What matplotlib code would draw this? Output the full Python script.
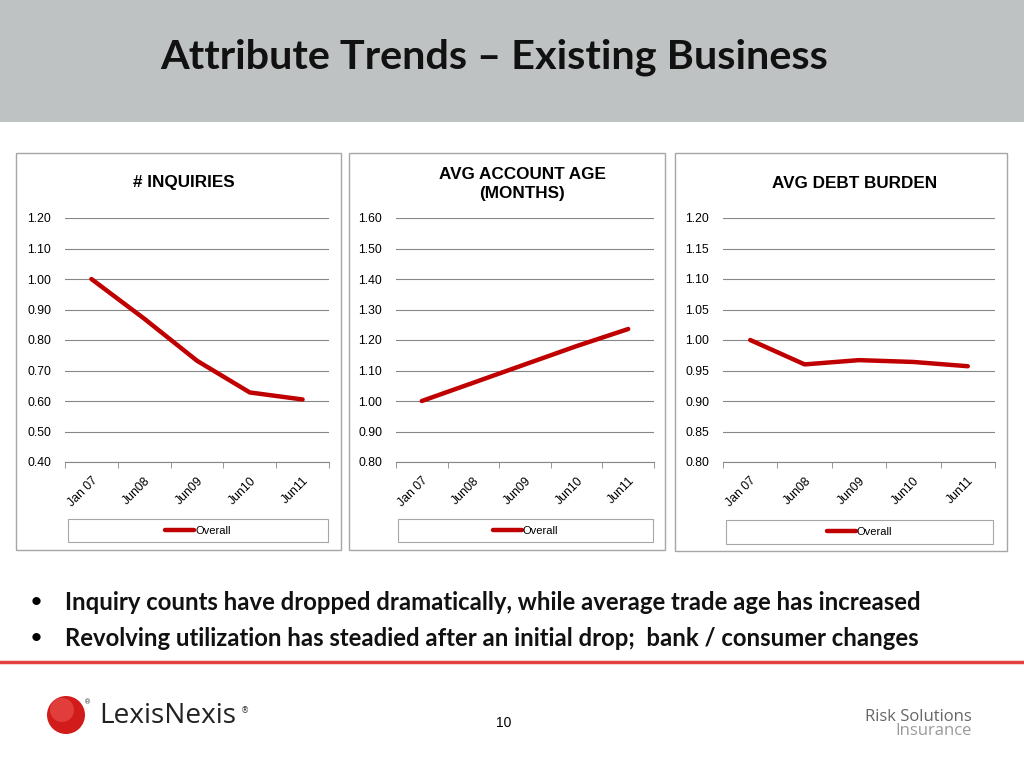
import matplotlib
matplotlib.use('Agg')
import matplotlib.pyplot as plt
from matplotlib.patches import Rectangle, Ellipse
from matplotlib.ticker import FixedLocator, FormatStrFormatter

#data
periods = ['Jan 07', 'Jun08', 'Jun09', 'Jun10', 'Jun11']
inquiries = [1.00, 0.87, 0.732, 0.628, 0.605]
account_age = [1.00, 1.06, 1.12, 1.18, 1.236]
debt_burden = [1.00, 0.960, 0.967, 0.964, 0.957]

titles = ['# INQUIRIES', 'AVG ACCOUNT AGE\n(MONTHS)', 'AVG DEBT BURDEN']
series = [inquiries, account_age, debt_burden]
y_ticks = [
    [0.40, 0.50, 0.60, 0.70, 0.80, 0.90, 1.00, 1.10, 1.20],
    [0.80, 0.90, 1.00, 1.10, 1.20, 1.30, 1.40, 1.50, 1.60],
    [0.80, 0.85, 0.90, 0.95, 1.00, 1.05, 1.10, 1.15, 1.20],
]
legend_label = 'Overall'
bullets = [
    'Inquiry counts have dropped dramatically, while average trade age has increased',
    'Revolving utilization has steadied after an initial drop;  bank / consumer changes',
]

W, H = 1024, 768
RED = '#C00000'
GRID = '#868686'

#pixel helpers
def fx(x):
    return x / W

def fy(y):
    return 1 - y / H

def box(x0, y0, x1, y1, **kw):
    return Rectangle((fx(x0), fy(y1)), fx(x1) - fx(x0), fy(y0) - fy(y1),
                     transform=fig.transFigure, **kw)

def disc(cx, cy, r, **kw):
    return Ellipse((fx(cx), fy(cy)), 2 * r / W, 2 * r / H, transform=fig.transFigure, **kw)

fig = plt.figure(figsize=(W / 100, H / 100), dpi=100)

#header band and title
fig.patches.append(box(0, 0, W, 122, facecolor='#BFC2C2', edgecolor='none', zorder=0))
fig.text(fx(160), fy(57), 'Attribute Trends \u2013 Existing Business', fontsize=29.8,
         fontweight='bold', family='Lato', color='#111111', va='center', ha='left')

#panel frames, axes areas, legend boxes, title positions (pixels)
frames = [(16, 153, 341, 550), (349, 153, 665, 550), (675, 153, 1007, 551)]
plots = [(65, 218, 329, 462), (396, 218, 654, 462), (723, 218, 995, 462)]
legboxes = [(68, 519, 328, 542), (398, 519, 653, 542), (726, 520, 993, 544)]
title_pos = [(184, 183), (522, 184), (855, 183)]

for i in range(3):
    fig.patches.append(box(*frames[i], facecolor='white', edgecolor='#A6A6A6', lw=1, zorder=1))
    fig.patches.append(box(*legboxes[i], facecolor='white', edgecolor='#A6A6A6', lw=0.8, zorder=2))
    x0, y0, x1, y1 = plots[i]
    ax = fig.add_axes([fx(x0), fy(y1), fx(x1) - fx(x0), fy(y0) - fy(y1)])
    ax.set_zorder(3)
    ax.patch.set_alpha(0)
    xs = range(len(periods))
    ax.plot(xs, series[i], color=RED, lw=3.2, solid_capstyle='round', label=legend_label, zorder=3)
    ax.set_xlim(-0.5, len(periods) - 0.5)
    ax.set_ylim(y_ticks[i][0], y_ticks[i][-1])
    ax.set_yticks(y_ticks[i])
    ax.yaxis.set_major_formatter(FormatStrFormatter('%.2f'))
    ax.set_xticks(list(xs))
    ax.set_xticklabels(periods, rotation=45, ha='right', rotation_mode='anchor', fontsize=8.8,
                       family='Liberation Sans')
    ax.xaxis.set_minor_locator(FixedLocator([k - 0.5 for k in range(len(periods) + 1)]))
    ax.tick_params(axis='x', which='major', length=0, pad=9)
    ax.tick_params(axis='x', which='minor', length=4, color=GRID, direction='out')
    ax.tick_params(axis='y', length=0, pad=10, labelsize=8.8)
    for lab in ax.get_yticklabels():
        lab.set_family('Liberation Sans')
    ax.grid(axis='y', color=GRID, lw=0.8)
    ax.set_axisbelow(True)
    for s in ['left', 'right', 'top']:
        ax.spines[s].set_visible(False)
    ax.spines['bottom'].set_color(GRID)
    ax.spines['bottom'].set_linewidth(0.8)
    #legend centred in its box
    lx0, ly0, lx1, ly1 = legboxes[i]
    ax.legend(loc='center', bbox_to_anchor=(fx((lx0 + lx1) / 2), fy((ly0 + ly1) / 2)),
              bbox_transform=fig.transFigure, frameon=False, handlelength=2.6,
              handletextpad=0.1, prop={'family': 'Liberation Sans', 'size': 8})
    tx, ty = title_pos[i]
    fig.text(fx(tx), fy(ty), titles[i], fontsize=12.3, fontweight='bold', family='Liberation Sans',
             ha='center', va='center', linespacing=1.3, zorder=4)

#bullets
for k, txt in enumerate(bullets):
    yy = 602 + 36 * k
    fig.text(fx(30), fy(yy), '\u2022', fontsize=16, family='Lato', va='center', ha='left')
    fig.text(fx(65), fy(yy), txt, fontsize=17.2, fontweight='bold', family='Lato',
             va='center', ha='left', color='#111111')

#red rule
fig.add_artist(plt.Line2D([0, 1], [fy(662), fy(662)], color='#E2413F', lw=2.5,
                          transform=fig.transFigure))

#page number
fig.text(fx(504), fy(723), '10', fontsize=10, family='Liberation Sans', ha='center', va='center')

#LexisNexis logo
fig.patches.append(disc(66, 715, 19, facecolor='#D21C1C', edgecolor='none', zorder=2))
fig.patches.append(disc(62, 710, 12, facecolor='#F0605A', edgecolor='none', alpha=0.5, zorder=2))
fig.text(fx(88), fy(702), '\u00ae', fontsize=5, color='#333333', ha='center', va='center')
fig.text(fx(99), fy(716), 'LexisNexis', fontsize=20.2, family='Open Sans', color='#222222',
         ha='left', va='center')
fig.text(fx(245), fy(711), '\u00ae', fontsize=6, color='#333333', ha='center', va='center')

#Risk Solutions logo
fig.text(fx(972), fy(717), 'Risk Solutions', fontsize=12, family='Open Sans', color='#666666',
         ha='right', va='center')
fig.text(fx(972), fy(731), 'Insurance', fontsize=12, family='Open Sans', color='#9A9A9A',
         ha='right', va='center')

plt.savefig('out.png', dpi=100)
